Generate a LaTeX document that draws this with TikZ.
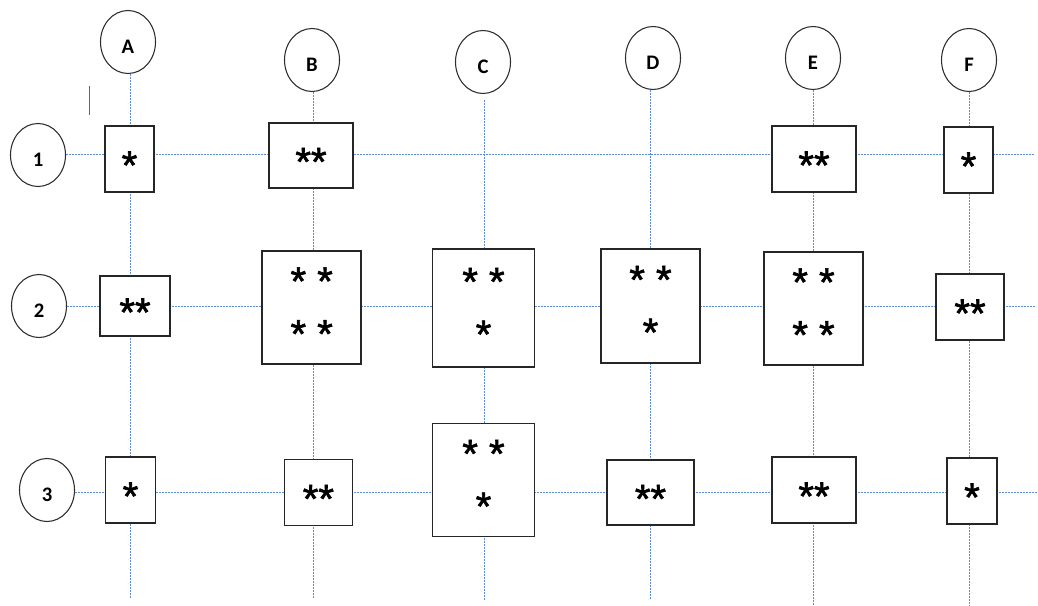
\documentclass[tikz,border=0pt]{standalone}
\usepackage{fontspec}
\setmainfont{Carlito}
\newfontfamily\astfont[FakeBold=1.6]{Liberation Sans}
\usetikzlibrary{shapes.geometric,backgrounds}
\definecolor{gridblue}{RGB}{91,140,205}
\definecolor{edgegray}{RGB}{45,45,45}
\tikzset{
  hdr/.style={ellipse, draw=edgegray, line width=0.8pt, fill=white,
    minimum width=55*0.75pt, minimum height=63*0.75pt, inner sep=0pt,
    font=\bfseries\fontsize{15.5}{17}\selectfont, text height=17pt, text depth=0pt},
  cellbox/.style={rectangle, draw=black!85, line width=1.1pt, fill=white,
    inner sep=0pt, align=center, font=\astfont\fontsize{30}{39.5}\selectfont},
  cell/.style 2 args={cellbox, minimum width=#1*0.75pt, minimum height=#2*0.75pt,
    execute at begin node={\rule{0pt}{30pt}}},
  cellii/.style 2 args={cellbox, minimum width=#1*0.75pt, minimum height=#2*0.75pt,
    execute at begin node={\rule{0pt}{34.4pt}}},
  gline/.style={draw=gridblue, line width=0.75pt, dash pattern=on 1.5pt off 0.75pt},
}
\begin{document}
\begin{tikzpicture}[x=0.75pt,y=-0.75pt]
\useasboundingbox (0,0) rectangle (1038,606);
% column headers
\node[hdr] (A) at (128,42) {A};
\node[hdr] (B) at (312,60) {B};
\node[hdr] (C) at (483,62) {C};
\node[hdr] (D) at (653,58) {D};
\node[hdr] (E) at (813,58) {E};
\node[hdr] (F) at (969,60) {F};
% row headers
\node[hdr] (R1) at (38,155) {1};
\node[hdr] (R2) at (39,306) {2};
\node[hdr] (R3) at (47,490) {3};
% cells row 1
\node[cell={49}{66}] (A1) at (129.5,159) {*};
\node[cell={84}{65}] (B1) at (311,155.5) {**};
\node[cell={84}{66}] (E1) at (814,159) {**};
\node[cell={49}{66}] (F1) at (968.5,160) {*};
% cells row 2
\node[cell={70}{60}] (A2) at (135,306) {**};
\node[cellii={99}{113}] (B2) at (311.7,307.5) {* *\\* *};
\node[cellii={102}{118}] (C2) at (483.5,308) {* *\\*};
\node[cellii={99}{114}] (D2) at (650.5,306) {* *\\*};
\node[cellii={99}{113}] (E2) at (813.5,308.5) {* *\\* *};
\node[cell={68}{66}] (F2) at (970,307) {**};
% cells row 3
\node[cell={50}{66}] (A3) at (130.5,490) {*};
\node[cell={68}{66}] (B3) at (318.4,492.5) {**};
\node[cellii={102}{113}] (C3) at (483.5,480) {* *\\*};
\node[cell={87}{65}] (D3) at (650.5,492.5) {**};
\node[cell={84}{66}] (E3) at (814,490) {**};
\node[cell={50}{66}] (F3) at (972,491) {*};
% free ends
\coordinate (Abot) at (130,598);
\coordinate (Bbot) at (313,598);
\coordinate (Ctop) at (484,100);
\coordinate (Cbot) at (484,600);
\coordinate (Dbot) at (650,600);
\coordinate (Ebot) at (813,606);
\coordinate (Fbot) at (969,606);
\coordinate (R1end) at (1035,155);
\coordinate (R2end) at (1035,306);
\coordinate (R3end) at (1037,492);
\begin{pgfonlayer}{background}
\draw[gline] (A.south -| Abot) -- (Abot);
\draw[gline] (B.south -| Bbot) -- (Bbot);
\draw[gline] (Ctop) -- (Cbot);
\draw[gline] (D.south -| Dbot) -- (Dbot);
\draw[gline] (E.south -| Ebot) -- (Ebot);
\draw[gline] (F.south -| Fbot) -- (Fbot);
\draw[gline] (R1.east) -- (R1end);
\draw[gline] (R2.east) -- (R2end);
\draw[gline] (R3.east |- R3end) -- (R3end);
\end{pgfonlayer}
% stray mark
\draw[black!60, line width=0.6pt] (89,86) -- (89,115);
\end{tikzpicture}
\end{document}
